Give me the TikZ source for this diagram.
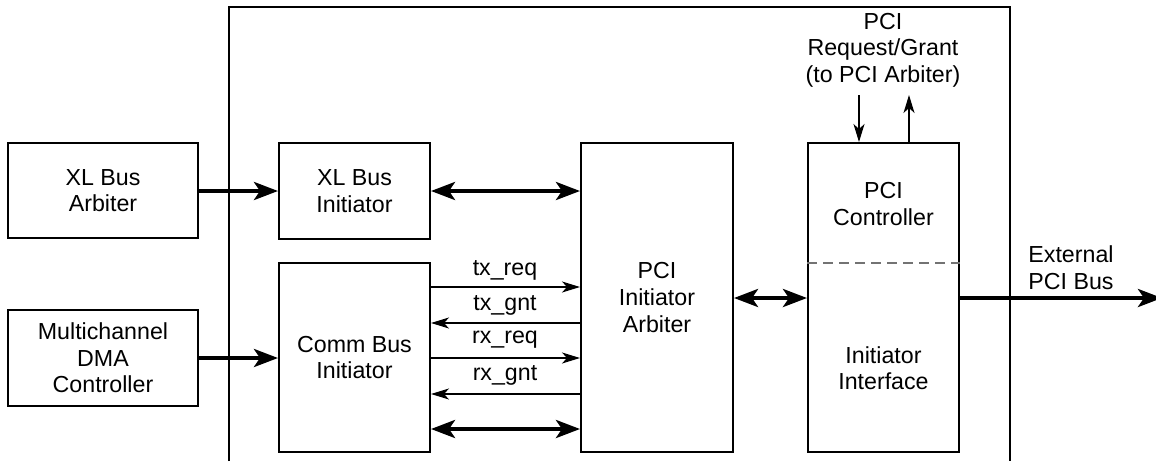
\documentclass[tikz,border=0pt]{standalone}
\usepackage{fontspec}
\setmainfont{Liberation Sans}
\usetikzlibrary{arrows.meta}
\begin{document}
\begin{tikzpicture}[x=0.5pt,y=-0.5pt,
  box/.style={draw,line width=1pt,inner sep=0pt,align=center,font=\fontsize{11.6}{13.3}\selectfont},
  lbl/.style={inner sep=0pt,align=center,font=\fontsize{11.6}{13.3}\selectfont},
  thick arrow/.style={line width=2pt,-{Stealth[length=12pt,width=9pt,inset=3pt]}},
  thick both/.style={line width=2pt,{Stealth[length=12pt,width=9pt,inset=3pt]}-{Stealth[length=12pt,width=9pt,inset=3pt]}},
  thin arrow/.style={line width=0.7pt,-{Stealth[length=9pt,width=5.5pt,inset=2.5pt]}}]
\useasboundingbox (0,0) rectangle (1156,461);
% outer block
\draw[line width=1pt] (229,461) |- (1010,7) -- (1010,461);
% boxes
\node[box,minimum width=95pt,minimum height=47.5pt] (xarb) at (103,190.5) {XL Bus\\Arbiter};
\node[box,minimum width=95pt,minimum height=48pt] (dma) at (103,358) {Multichannel\\DMA\\Controller};
\node[box,minimum width=75.5pt,minimum height=48pt] (xinit) at (354.5,191) {XL Bus\\Initiator};
\node[box,minimum width=75.5pt,minimum height=94.5pt] (comm) at (354.5,357.5) {Comm Bus\\Initiator};
\node[box,minimum width=76pt,minimum height=154.5pt] (arb) at (657,297.5) {PCI\\Initiator\\Arbiter};
\node[box,minimum width=75.5pt,minimum height=154.5pt] (ctrl) at (883.5,297.5) {};
\node[lbl] (ctrltxt) at (883.5,204) {PCI\\Controller};
\node[lbl] (iftxt) at (883.5,368) {Initiator\\Interface};
\draw[gray!90!black,line width=0.7pt,dash pattern=on 5pt off 3pt] (ctrl.west |- 0,263) -- (ctrl.east |- 0,263);
% labels
\node[lbl] (req) at (883,50) {PCI\\Request/Grant\\(to PCI Arbiter)};
\node[lbl] (ext) at (1071,268) {External\\PCI Bus};
\node[lbl] (txreq) at (505,270) {tx\_req};
\node[lbl] (txgnt) at (505,305) {tx\_gnt};
\node[lbl] (rxreq) at (505,340) {rx\_req};
\node[lbl] (rxgnt) at (505,375) {rx\_gnt};
% connectors
\draw[thick arrow] (xarb.east |- 0,191) -- (xinit.west |- 0,191);
\draw[thick arrow] (dma.east) -- (comm.west |- 0,358);
\draw[thick both] (xinit.east |- 0,191) -- (arb.west |- 0,191);
\draw[thin arrow] (comm.east |- 0,287) -- (arb.west |- 0,287);
\draw[thin arrow] (arb.west |- 0,323) -- (comm.east |- 0,323);
\draw[thin arrow] (comm.east |- 0,358) -- (arb.west |- 0,358);
\draw[thin arrow] (arb.west |- 0,394) -- (comm.east |- 0,394);
\draw[thick both] (comm.east |- 0,429) -- (arb.west |- 0,429);
\draw[thick both] (arb.east |- 0,298) -- (ctrl.west |- 0,298);
\coordinate (pcibusend) at (1162,298);
\draw[thick arrow] (ctrl.east |- 0,298) -- (pcibusend);
\coordinate (reqin) at (859,95);
\coordinate (gntout) at (909,95);
\draw[thin arrow] (reqin) -- (reqin |- ctrl.north);
\draw[thin arrow] (gntout |- ctrl.north) -- (gntout);
\end{tikzpicture}
\end{document}
